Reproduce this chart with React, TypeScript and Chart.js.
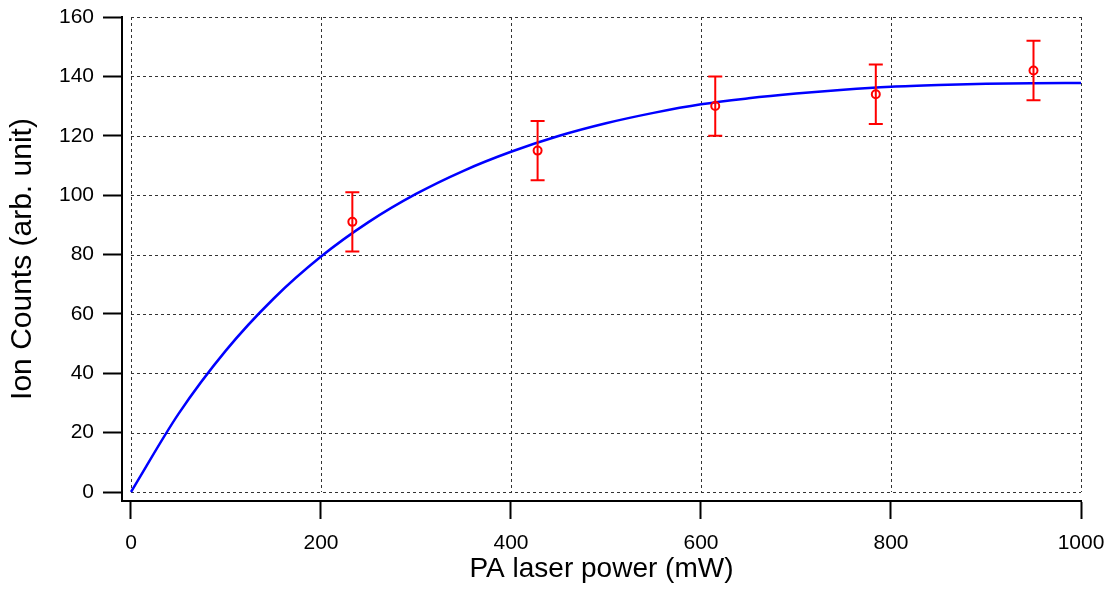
import React, { useEffect, useRef } from "react";
import { Chart, registerables } from "chart.js";

Chart.register(...registerables);

// Measured data points (PA laser power in mW, ion counts, error)
const powerMW = [233, 428, 615, 784, 950];
const ionCounts = [91, 115, 130, 134, 142];
const ionErrors = [10, 10, 10, 10, 10];

// Fit curve
const fitPower = [0, 50, 100, 150, 200, 250, 300, 350, 400, 450, 500, 550, 600, 650, 700, 750, 800, 850, 900, 950, 1000];
const fitCounts = [0, 26.3, 47.7, 65.1, 79.3, 90.9, 100.4, 108.2, 114.6, 119.9, 124.2, 127.7, 130.6, 132.6, 134.2, 135.5, 136.5, 137.1, 137.5, 137.7, 137.8];

// Axis ticks
const xTicks = [0, 200, 400, 600, 800, 1000];
const yTicks = [0, 20, 40, 60, 80, 100, 120, 140, 160];

const xTitle = "PA laser power (mW)";
const yTitle = "Ion Counts (arb. unit)";
const xMin = -9.47;
const xMax = 1000;
const yMin = -3.03;
const yMax = 160;

const FONT = "'Liberation Sans', Arial, sans-serif";

const gridPlugin = {
  id: "dottedGrid",
  beforeDatasetsDraw(chart: any) {
    const { ctx, scales } = chart;
    const x = scales.x;
    const y = scales.y;
    const left = x.getPixelForValue(0);
    const right = x.getPixelForValue(xMax);
    const bottom = y.getPixelForValue(0);
    const top = y.getPixelForValue(yMax);
    ctx.save();
    ctx.strokeStyle = "#333";
    ctx.lineWidth = 1;
    ctx.setLineDash([3, 3]);
    x.ticks.forEach((t: any) => {
      const px = Math.round(x.getPixelForValue(t.value)) + 0.5;
      ctx.beginPath();
      ctx.moveTo(px, top);
      ctx.lineTo(px, bottom);
      ctx.stroke();
    });
    y.ticks.forEach((t: any) => {
      const py = Math.round(y.getPixelForValue(t.value)) + 0.5;
      ctx.beginPath();
      ctx.moveTo(left, py);
      ctx.lineTo(right, py);
      ctx.stroke();
    });
    ctx.restore();
  },
};

const errorBarPlugin = {
  id: "errorBars",
  afterDatasetsDraw(chart: any) {
    const { ctx, scales } = chart;
    const x = scales.x;
    const y = scales.y;
    ctx.save();
    ctx.strokeStyle = "#ff0000";
    ctx.lineWidth = 2;
    ctx.setLineDash([]);
    powerMW.forEach((p, i) => {
      const px = x.getPixelForValue(p);
      const pt = y.getPixelForValue(ionCounts[i] + ionErrors[i]);
      const pb = y.getPixelForValue(ionCounts[i] - ionErrors[i]);
      const cap = 7;
      ctx.beginPath();
      ctx.moveTo(px, pt);
      ctx.lineTo(px, pb);
      ctx.moveTo(px - cap, pt);
      ctx.lineTo(px + cap, pt);
      ctx.moveTo(px - cap, pb);
      ctx.lineTo(px + cap, pb);
      ctx.stroke();
    });
    ctx.restore();
  },
};

export default function App() {
  const ref = useRef<HTMLCanvasElement>(null);

  useEffect(() => {
    if (!ref.current) return;
    Chart.defaults.font.family = FONT;
    const chart = new Chart(ref.current, {
      type: "scatter",
      data: {
        datasets: [
          {
            label: "data",
            data: powerMW.map((p, i) => ({ x: p, y: ionCounts[i] })),
            showLine: false,
            pointStyle: "circle",
            pointRadius: 4,
            pointBorderWidth: 2,
            borderColor: "#ff0000",
            backgroundColor: "rgba(0,0,0,0)",
            clip: false,
          },
          {
            label: "fit",
            data: fitPower.map((p, i) => ({ x: p, y: fitCounts[i] })),
            showLine: true,
            pointRadius: 0,
            borderColor: "#0000ff",
            borderWidth: 2.5,
            cubicInterpolationMode: "monotone",
            clip: false,
          },
        ],
      },
      options: {
        animation: false,
        responsive: true,
        maintainAspectRatio: false,
        layout: { padding: { top: 9, right: 24, left: 0, bottom: 0 } },
        plugins: {
          legend: { display: false },
          tooltip: { enabled: false },
        },
        scales: {
          x: {
            type: "linear",
            min: xMin,
            max: xMax,
            afterBuildTicks: (s: any) => {
              s.ticks = xTicks.map((v) => ({ value: v }));
            },
            afterFit: (s: any) => {
              s.height = 82;
              s.paddingLeft = 0;
              s.paddingRight = 0;
            },
            ticks: {
              color: "#000",
              font: { size: 21, family: FONT },
              padding: 12,
              maxRotation: 0,
              autoSkip: false,
              callback: (v: any) => String(v),
            },
            grid: {
              drawOnChartArea: false,
              drawTicks: true,
              tickLength: 18,
              tickColor: "#000",
              tickWidth: 2,
            },
            border: { display: true, color: "#000", width: 2 },
            title: {
              display: true,
              text: xTitle,
              color: "#000",
              font: { size: 28, family: FONT, lineHeight: 1 },
              padding: 0,
            },
          },
          y: {
            type: "linear",
            min: yMin,
            max: yMax,
            afterBuildTicks: (s: any) => {
              s.ticks = yTicks.map((v) => ({ value: v }));
            },
            afterFit: (s: any) => {
              s.width = 114;
              s.paddingTop = 0;
              s.paddingBottom = 0;
            },
            ticks: {
              color: "#000",
              font: { size: 21, family: FONT },
              padding: 9,
              autoSkip: false,
              callback: (v: any) => String(v),
            },
            grid: {
              drawOnChartArea: false,
              drawTicks: true,
              tickLength: 19,
              tickColor: "#000",
              tickWidth: 2,
            },
            border: { display: true, color: "#000", width: 2 },
            title: {
              display: true,
              text: yTitle,
              color: "#000",
              font: { size: 30, family: FONT, lineHeight: 1 },
              padding: 0,
            },
          },
        },
      },
      plugins: [gridPlugin, errorBarPlugin],
    } as any);
    return () => chart.destroy();
  }, []);

  return (
    <div style={{ position: "relative", width: "1097px", height: "575px" }}>
      <canvas ref={ref} />
    </div>
  );
}
